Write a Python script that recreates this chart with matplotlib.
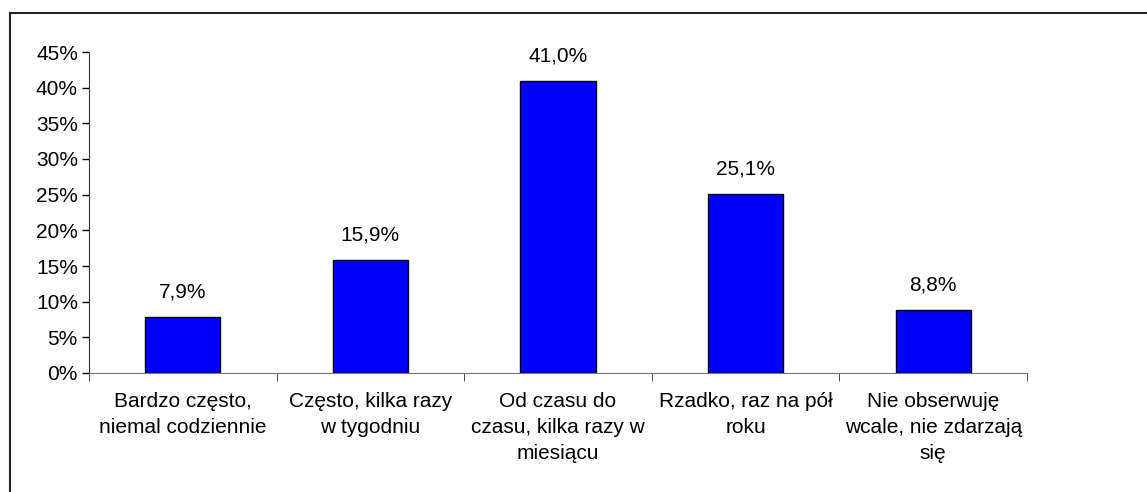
import numpy as np
import matplotlib
matplotlib.use('Agg')
import matplotlib.pyplot as plt
from matplotlib.patches import Rectangle

plt.rcParams['font.family'] = ['Liberation Sans', 'DejaVu Sans']

categories = ['Bardzo często,\nniemal codziennie',
              'Często, kilka razy\nw tygodniu',
              'Od czasu do\nczasu, kilka razy w\nmiesiącu',
              'Rzadko, raz na pół\nroku',
              'Nie obserwuję\nwcale, nie zdarzają\nsię']
values = [7.9, 15.9, 41.0, 25.1, 8.8]
value_labels = ['7,9%', '15,9%', '41,0%', '25,1%', '8,8%']
yticks = list(range(0, 50, 5))

W, H = 1147, 492
fs = 15
fig = plt.figure(figsize=(W / 100, H / 100), dpi=100)
ax = fig.add_axes([89 / W, 1 - 373 / H, (1027 - 89) / W, (373 - 52) / H])

# outer frame (runs off right/bottom like the original)
fig.patches.append(Rectangle((10 / W, -0.1), 1.2, 1 - 13 / H + 0.1,
                             transform=fig.transFigure, fill=False,
                             edgecolor='#222222', linewidth=1.5))

x = np.arange(len(values))
ax.bar(x, values, width=0.40, color='#0000FF', edgecolor='black', linewidth=1)

for xi, v, lab in zip(x, values, value_labels):
    ax.annotate(lab, (xi, v), xytext=(0, 11), textcoords='offset points',
                ha='center', va='bottom', fontsize=fs)

ax.set_xlim(-0.5, len(values) - 0.5)
ax.set_ylim(0, 45)
ax.set_yticks(yticks)
ax.set_yticklabels([f'{t}%' for t in yticks], fontsize=fs)

ax.set_xticks(x)
ax.set_xticklabels(categories, fontsize=fs, linespacing=1.45)
ax.tick_params(axis='x', length=0, pad=14)
ax.set_xticks(np.arange(len(values) + 1) - 0.5, minor=True)
ax.tick_params(axis='x', which='minor', length=6, direction='out', color='#333333')
ax.tick_params(axis='y', length=5, direction='out', width=1, pad=3)

for s in ['top', 'right']:
    ax.spines[s].set_visible(False)
ax.spines['left'].set_color('#333333')
ax.spines['bottom'].set_color('#777777')

fig.savefig('out.png', dpi=100)
